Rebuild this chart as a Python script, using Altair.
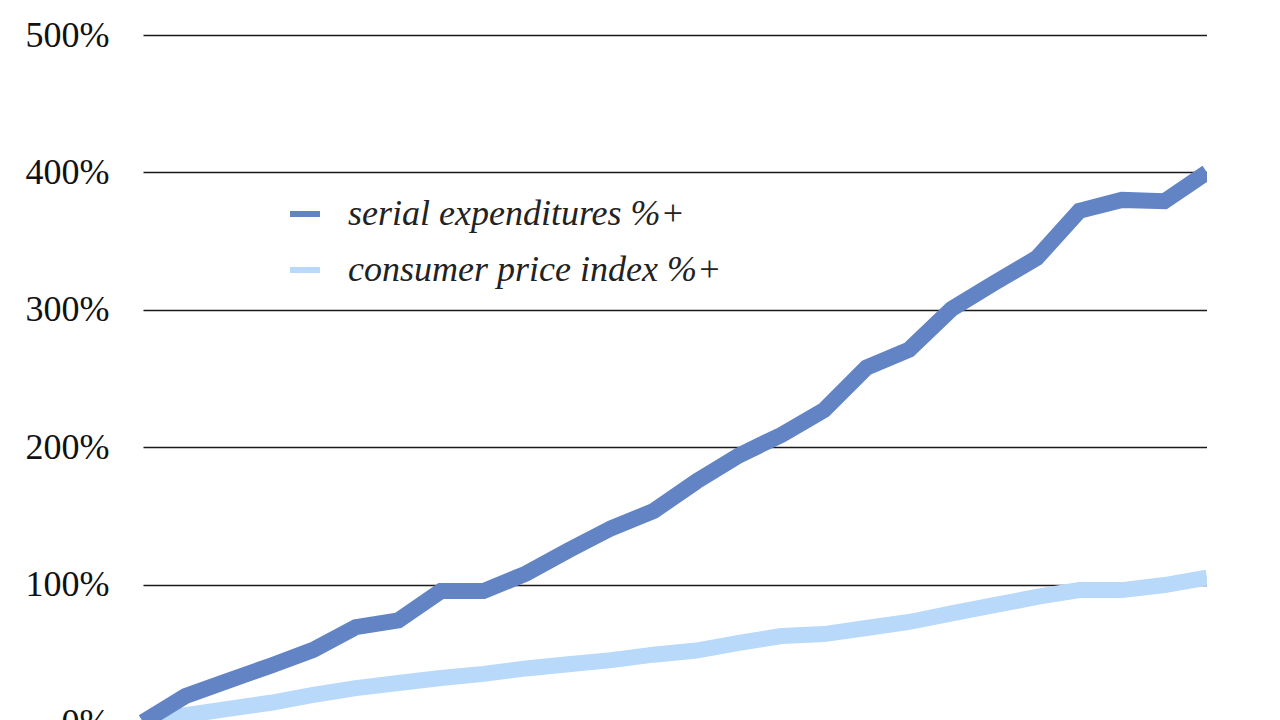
import altair as alt
import pandas as pd

period = list(range(26))
serial_exp = [0, 19, 30, 41, 52.5, 69, 74, 95.3, 95.3, 108, 125, 141, 153.6, 175, 194,
              209, 227, 258, 271, 300.6, 319.5, 337.7, 372, 380, 379, 400]
cpi = [0, 5, 9.5, 14, 19.7, 24.7, 28.4, 32, 35, 39, 42, 45, 49, 52, 57.5, 62.6, 64,
       68.4, 72.8, 79, 85, 91, 96, 96, 99.7, 105]
series_names = ["serial expenditures %+", "consumer price index %+"]
y_ticks = [0, 100, 200, 300, 400, 500]

df_serial = pd.DataFrame({"period": period, "value": serial_exp, "series": series_names[0]})
df_cpi = pd.DataFrame({"period": period, "value": cpi, "series": series_names[1]})

color_scale = alt.Scale(domain=series_names, range=["#6284C5", "#B8D9FA"])

x_enc = alt.X("period:Q", scale=alt.Scale(domain=[0, 25], nice=False, zero=False), axis=None)
y_enc = alt.Y(
    "value:Q",
    scale=alt.Scale(domain=[0, 500], nice=False),
    axis=alt.Axis(
        values=y_ticks,
        labelExpr="datum.value + '%'",
        title=None,
        ticks=False,
        domain=False,
        grid=True,
        gridColor="#1a1a1a",
        gridWidth=1.3,
        labelFont="Liberation Serif",
        labelFontSize=36,
        labelColor="#111111",
        labelPadding=34,
    ),
)
color_enc = alt.Color(
    "series:N",
    scale=color_scale,
    legend=alt.Legend(
        title=None,
        orient="none",
        legendX=144,
        legendY=161,
        symbolType="stroke",
        symbolSize=900,
        symbolStrokeWidth=6,
        labelFont="Liberation Serif",
        labelFontStyle="italic",
        labelFontSize=36,
        labelColor="#222222",
        labelOffset=25,
        rowPadding=20,
        padding=0,
        labelLimit=600,
    ),
)

line_kw = dict(strokeWidth=16, strokeJoin="miter", strokeCap="butt")

light = alt.Chart(df_cpi).mark_line(**line_kw).encode(x=x_enc, y=y_enc, color=color_enc)
dark = alt.Chart(df_serial).mark_line(**line_kw).encode(x=x_enc, y=y_enc, color=color_enc)

chart = (
    alt.layer(light, dark)
    .properties(
        width=1064,
        height=687,
        autosize=alt.AutoSizeParams(type="none"),
        padding={"left": 135, "top": 27, "right": 0, "bottom": 0},
        background="white",
    )
    .configure_view(stroke=None)
)

chart.save("out.html", embed_options={"renderer": "svg", "actions": False})
